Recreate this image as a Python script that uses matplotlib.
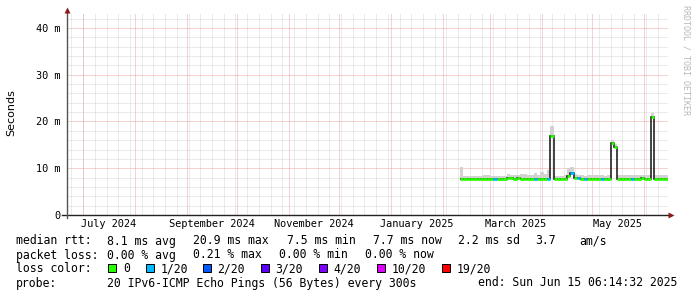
import datetime as dt

import matplotlib
matplotlib.use("Agg")
import matplotlib.pyplot as plt
import matplotlib.dates as mdates
from matplotlib.lines import Line2D
from matplotlib.patches import Rectangle

# --- data -------------------------------------------------------------------
start = dt.datetime(2025, 2, 11)
step_days = 2

# median rtt per 2-day bin (ms)
median = [7.6, 7.6, 7.7, 7.7, 7.6, 7.6, 7.6, 7.6, 7.7, 7.6,
          7.6, 7.6, 7.6, 7.6, 7.9, 7.9, 7.8, 7.9, 7.7, 7.8,
          7.7, 7.8, 7.8, 7.7, 7.7, 7.6, 7.6, 16.9, 7.6, 7.6,
          7.6, 7.7, 8.4, 9.0, 8.0, 7.9, 7.7, 7.6, 7.7, 7.7,
          7.7, 7.8, 7.7, 7.7, 7.6, 15.3, 14.5, 7.7, 7.8, 7.8,
          7.8, 7.8, 7.8, 7.8, 7.9, 7.8, 7.8, 20.9, 7.8, 7.8,
          7.8, 7.7]

# top of the smoke (max ping) per bin (ms)
smoke_top = [10.2, 8.4, 8.3, 8.3, 8.3, 8.4, 8.3, 8.6, 8.5, 8.3,
             8.3, 8.3, 8.3, 8.4, 8.7, 8.6, 8.5, 8.6, 8.8, 8.8,
             8.5, 8.6, 8.9, 8.6, 9.2, 8.8, 9.6, 19.0, 8.3, 8.3,
             8.4, 8.5, 10.0, 10.2, 8.7, 8.6, 8.5, 8.4, 8.5, 8.6,
             8.5, 8.6, 8.5, 8.4, 8.5, 16.0, 15.2, 8.5, 8.6, 8.6,
             8.6, 8.6, 8.6, 8.6, 8.6, 8.6, 8.6, 21.9, 8.6, 8.6,
             8.6, 8.5]

# packet loss index per bin (0 -> 0/20, 1 -> 1/20, ...)
loss = [0, 0, 0, 0, 0, 0, 0, 0, 0, 0,
        1, 0, 0, 0, 0, 0, 0, 0, 0, 0,
        0, 0, 1, 0, 0, 0, 1, 0, 0, 0,
        0, 0, 0, 1, 0, 1, 0, 1, 0, 0,
        0, 0, 1, 0, 0, 0, 0, 0, 0, 0,
        0, 1, 0, 0, 0, 0, 0, 0, 0, 0,
        0, 0]

loss_labels = ["0", "1/20", "2/20", "3/20", "4/20", "10/20", "19/20"]
loss_colors = ["#26ff00", "#00b8ff", "#0059ff", "#5e00ff", "#7e00ff", "#dd00ff", "#ff0000"]

x_labels = ["July 2024", "September 2024", "November 2024",
            "January 2025", "March 2025", "May 2025"]
x_label_dates = [dt.datetime(2024, 7, 16), dt.datetime(2024, 9, 16), dt.datetime(2024, 11, 16),
                 dt.datetime(2025, 1, 16), dt.datetime(2025, 3, 16), dt.datetime(2025, 5, 16)]
y_ticks = [0, 10, 20, 30, 40]
y_labels = ["0", "10 m", "20 m", "30 m", "40 m"]

stats_rtt = ["8.1 ms avg", "20.9 ms max", "7.5 ms min", "7.7 ms now", "2.2 ms sd", "3.7", "am/s"]
stats_loss = ["0.00 % avg", "0.21 % max", "0.00 % min", "0.00 % now"]

t_begin = dt.datetime(2024, 6, 21, 9, 50)
t_end = dt.datetime(2025, 6, 15, 6, 14, 32)

# --- figure -----------------------------------------------------------------
W, H = 697, 297
MONO = "DejaVu Sans Mono"


def fx(px):
    return px / W


def fy(py):
    return 1 - py / H


fig = plt.figure(figsize=(W / 100, H / 100), dpi=100)
fig.patch.set_facecolor("white")
ax = fig.add_axes([fx(67), fy(215), fx(668) - fx(67), fy(13) - fy(215)])
ax.set_xlim(mdates.date2num(t_begin), mdates.date2num(t_end))
ax.set_ylim(0, 43.2)
for s in ax.spines.values():
    s.set_visible(False)

# grid (dotted)
minor_c = "#d6d6d6"
major_c = "#eca4a4"
gkw = dict(lw=0.72, ls=(0, (1, 1)))
week = dt.datetime(2024, 6, 24)
while week < t_end:
    ax.axvline(mdates.date2num(week), color=minor_c, zorder=0, **gkw)
    week += dt.timedelta(days=7)
for v in range(2, 44, 2):
    if v % 10:
        ax.axhline(v, color=minor_c, zorder=0, **gkw)
month = dt.datetime(2024, 7, 1)
while month < t_end:
    ax.axvline(mdates.date2num(month), color=major_c, zorder=1, **gkw)
    month = dt.datetime(month.year + month.month // 12, month.month % 12 + 1, 1)
for v in y_ticks[1:]:
    ax.axhline(v, color=major_c, zorder=1, **gkw)

# data
edges = [mdates.date2num(start + dt.timedelta(days=step_days * i)) for i in range(len(median) + 1)]
ax.fill_between(edges, median + [median[-1]], smoke_top + [smoke_top[-1]],
                step="post", color="#d2d2d2", lw=0, zorder=2)
ax.stairs(median, edges, baseline=None, color="#111111", lw=1.1, zorder=3)
ax.hlines(median, edges[:-1], edges[1:], colors=[loss_colors[l] for l in loss],
          lw=2.0, zorder=4)

# ticks
ax.set_yticks(y_ticks)
ax.set_yticklabels(y_labels, fontfamily=MONO, fontsize=7.4)
ax.set_xticks([mdates.date2num(d) for d in x_label_dates])
ax.set_xticklabels(x_labels, fontfamily=MONO, fontsize=7.4)
ax.tick_params(axis="y", length=0, pad=5)
ax.tick_params(axis="x", length=0, pad=3)

# axes lines with arrows
fig.add_artist(Line2D([fx(62), fx(670)], [fy(215), fy(215)], color="#222222", lw=1.0))
fig.add_artist(Line2D([fx(67), fx(67)], [fy(218), fy(11)], color="#555555", lw=1.0))
fig.add_artist(Line2D([fx(671)], [fy(215)], marker=">", ms=4, color="#8b1a1a", mec="none"))
fig.add_artist(Line2D([fx(67)], [fy(10)], marker="^", ms=4, color="#8b1a1a", mec="none"))

fig.text(fx(11), fy(113), "Seconds", rotation=90, ha="center", va="center",
         fontsize=8, family="DejaVu Sans")
fig.text(fx(686), fy(5), "RRDTOOL / TOBI OETIKER", rotation=270, ha="center", va="top",
         fontsize=6, family=MONO, color="#b8b8b8")

# legend block
fs = 8.3
rows = [241, 255, 269, 283]
fig.text(fx(16), fy(rows[0]), "median rtt:", family=MONO, fontsize=fs, va="center")
for txt, px in zip(stats_rtt, [107.3, 193.3, 286.7, 372.7, 458.3, 535.7, 579.3]):
    fig.text(fx(px), fy(rows[0]), txt, family=MONO, fontsize=fs, va="center")
fig.text(fx(16), fy(rows[1]), "packet loss:", family=MONO, fontsize=fs, va="center")
for txt, px in zip(stats_loss, [107.3, 193.3, 279.3, 365]):
    fig.text(fx(px), fy(rows[1]), txt, family=MONO, fontsize=fs, va="center")
fig.text(fx(16), fy(rows[2]), "loss color:", family=MONO, fontsize=fs, va="center")
box_x = [108.3, 145.7, 203, 261, 319, 377, 442]
for lab, col, bx in zip(loss_labels, loss_colors, box_x):
    fig.add_artist(Rectangle((fx(bx), fy(272)), 8 / W, 8 / H, transform=fig.transFigure,
                             facecolor=col, edgecolor="black", lw=0.7))
    fig.text(fx(bx + 14.5), fy(rows[2]), lab, family=MONO, fontsize=fs, va="center")
fig.text(fx(16), fy(rows[3]), "probe:", family=MONO, fontsize=fs, va="center")
fig.text(fx(107.3), fy(rows[3]), "20 IPv6-ICMP Echo Pings (56 Bytes) every 300s",
         family=MONO, fontsize=fs, va="center")
fig.text(fx(478.3), fy(rows[3]), "end: Sun Jun 15 06:14:32 2025",
         family=MONO, fontsize=fs, va="center")

fig.savefig("out.png", dpi=100)
